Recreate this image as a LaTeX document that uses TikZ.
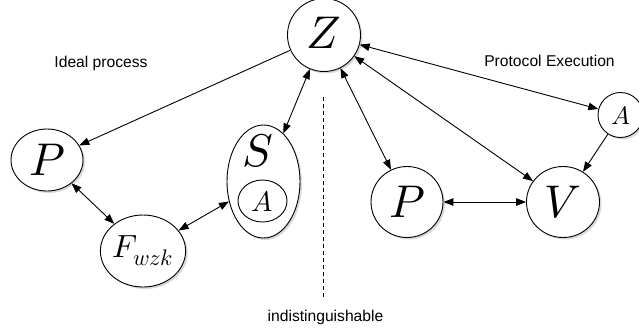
\documentclass[tikz,border=0pt]{standalone}
\usepackage{fontspec}
\usepackage{unicode-math}
\setmathfont{Latin Modern Math}
\newfontfamily\labfont{Liberation Sans}
\usetikzlibrary{shapes.geometric,arrows.meta,shadows}
\begin{document}
\begin{tikzpicture}[x=1bp,y=-1bp,
  ent/.style={ellipse,draw,line width=0.9bp,fill=white,inner sep=0pt,
    drop shadow={opacity=0.3,shadow xshift=2bp,shadow yshift=-2bp}},
  plainell/.style={ellipse,draw,line width=0.9bp,fill=white,inner sep=0pt},
  big/.style={font=\fontsize{46}{46}\selectfont},
  conn/.style={line width=0.9bp,{Triangle[length=10bp,width=7.5bp]}-{Triangle[length=10bp,width=7.5bp]}},
  oneway/.style={line width=0.9bp,-{Triangle[length=10bp,width=7.5bp]}},
  lab/.style={font=\labfont\fontsize{15.7}{17}\selectfont,inner sep=0pt}]
\useasboundingbox (0,0) rectangle (639,331);
\node[ent,minimum width=73bp,minimum height=73bp] (Z) at (324,35) {};
\node[inner sep=0pt,big] (Zl) at (324,33) {$Z$};
\node[ent,big,minimum width=72bp,minimum height=62bp] (P1) at (47,160) {$P$};
\node[ent,big,minimum width=72bp,minimum height=72bp] (F) at (143,251) {\scalebox{0.7}{$F_{wzk}$}};
\node[ent,minimum width=73bp,minimum height=113bp] (S) at (263.5,181.5) {};
\node[inner sep=0pt,big] (Slbl) at (258,151) {$S$};
\node[plainell,big,minimum width=49bp,minimum height=42bp] (Ain) at (262.5,201) {\scalebox{0.62}{$A$}};
\node[ent,big,minimum width=72bp,minimum height=71bp] (P2) at (407,202) {$P$};
\node[ent,big,minimum width=73bp,minimum height=71bp] (V) at (563,202) {$V$};
\node[ent,big,minimum width=45bp,minimum height=45bp] (A2) at (620.5,115) {\scalebox{0.55}{$A$}};
\node[lab] (ideal) at (101,63) {Ideal process};
\node[lab] (proto) at (549.5,61) {Protocol Execution};
\node[lab] (indist) at (325.5,317) {indistinguishable};
\coordinate (dtop) at (323,97);
\coordinate (dbot) at (323,300);
\draw[line width=0.8bp,dash pattern=on 4bp off 3bp] (dtop) -- (dbot);
\draw[oneway] (Z) -- (P1);
\draw[conn] (Z) -- (S);
\draw[conn] (P1) -- (F);
\draw[conn] (F) -- (S);
\draw[conn] (Z) -- (P2);
\draw[conn] (Z) -- (V);
\draw[conn] (Z) -- (A2);
\draw[oneway] (A2) -- (V);
\draw[conn] (P2) -- (V);
\end{tikzpicture}
\end{document}
